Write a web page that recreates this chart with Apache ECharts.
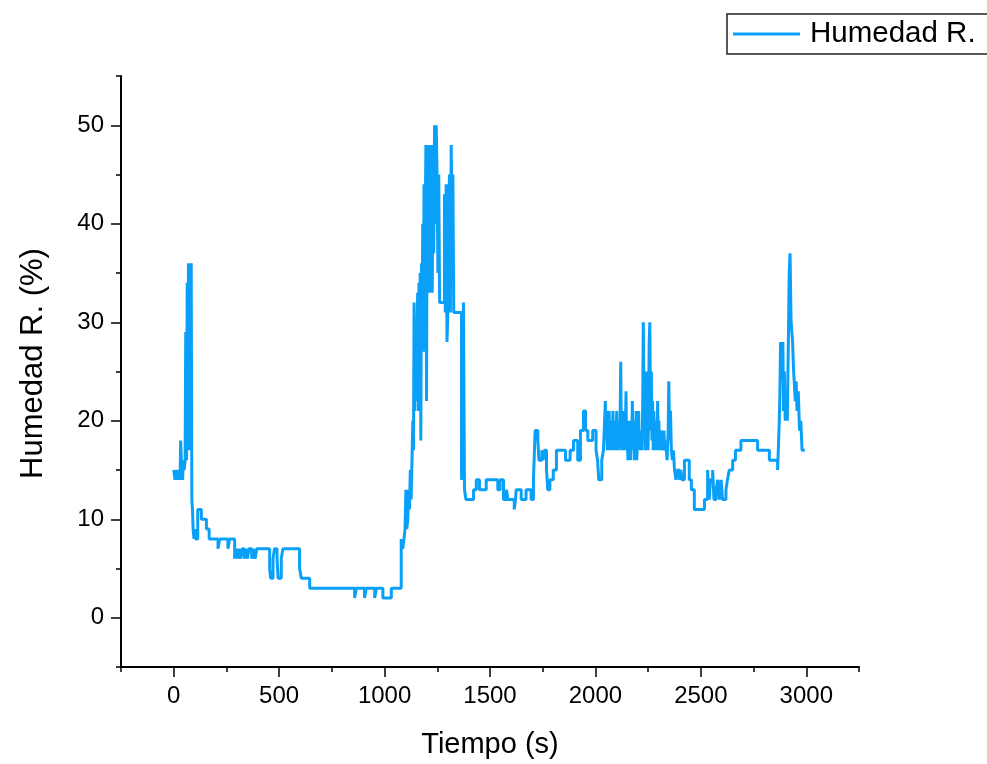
<!DOCTYPE html>
<html>
<head>
<meta charset="utf-8">
<script src="https://cdn.jsdelivr.net/npm/echarts@6/dist/echarts.min.js"></script>
<style>
  html, body { margin: 0; padding: 0; background: #ffffff; }
  #chart { width: 987px; height: 764px; }
</style>
</head>
<body>
<div id="chart"></div>
<script>
// Relative humidity log as [time (s), RH (%)]; each reading holds until the next timestamp.
const tramoInicial = [
  [0, 15], [6, 14], [10, 15], [14, 14], [18, 15], [22, 14], [26, 15], [30, 14], [33, 18], [38, 15], [42, 14], [46, 16],
  [50, 15], [54, 16], [57, 29], [61, 16], [64, 34], [67, 21], [70, 36], [73, 17], [76, 36], [80, 20], [83, 36], [86, 12],
  [89, 11], [92, 9], [96, 8], [100, 9], [104, 8], [114, 11], [131, 10], [155, 9], [168, 8]
];
const tramoSeco = [
  [210, 7], [218, 8], [257, 7], [265, 8], [289, 6], [296, 7], [303, 6], [310, 7], [318, 6], [325, 7], [335, 6], [342, 7],
  [350, 6], [357, 7], [370, 6], [378, 7], [386, 6], [394, 7], [455, 5], [460, 4], [471, 6], [478, 7], [490, 6], [495, 4],
  [510, 6], [518, 7], [597, 5], [605, 4], [645, 3], [858, 2], [866, 3], [905, 2], [913, 3], [953, 2], [961, 3], [992, 2],
  [1032, 3]
];
const picoCentral = [
  [1079, 8], [1086, 7], [1092, 8], [1097, 9], [1101, 13], [1105, 9], [1110, 10], [1114, 13], [1118, 11], [1122, 15],
  [1126, 12], [1130, 16], [1134, 20], [1137, 17], [1140, 32], [1143, 21], [1147, 30], [1151, 22], [1154, 29], [1157, 33],
  [1160, 21], [1163, 34], [1166, 26], [1169, 35], [1172, 18], [1175, 36], [1178, 30], [1181, 40], [1184, 27], [1187, 44],
  [1190, 35], [1193, 41], [1196, 48], [1199, 22], [1202, 45], [1205, 48], [1208, 34], [1211, 48], [1214, 33], [1217, 46],
  [1220, 38], [1223, 48], [1226, 33], [1229, 43], [1233, 37], [1237, 50], [1241, 40], [1245, 50], [1249, 45], [1253, 35],
  [1257, 45], [1261, 32], [1284, 43], [1288, 31], [1292, 44], [1296, 28], [1300, 31], [1304, 42], [1308, 45], [1312, 31],
  [1316, 48], [1320, 40], [1324, 45], [1328, 31], [1365, 14], [1370, 20], [1374, 32], [1379, 13], [1386, 12]
];
const tramoMedio = [
  [1422, 13], [1435, 14], [1450, 13], [1482, 14], [1537, 13], [1548, 14], [1564, 12], [1578, 13], [1585, 12], [1615, 11],
  [1621, 12], [1624, 13], [1648, 12], [1671, 13], [1695, 12], [1706, 14], [1714, 19], [1727, 18], [1732, 16], [1746, 17],
  [1752, 16], [1758, 17], [1768, 15], [1774, 13], [1784, 14], [1800, 15], [1815, 17], [1858, 16], [1880, 17], [1896, 18],
  [1916, 16], [1929, 19], [1943, 21], [1953, 19], [1964, 18], [1987, 19], [2003, 17], [2010, 16], [2016, 14], [2030, 16],
  [2038, 17]
];
const tramoRuidoso = [
  [2047, 22], [2050, 18], [2053, 21], [2056, 17], [2059, 20], [2062, 18], [2065, 21], [2068, 17], [2071, 19], [2074, 17],
  [2077, 20], [2080, 18], [2083, 21], [2086, 17], [2089, 19], [2092, 17], [2095, 20], [2098, 18], [2101, 21], [2104, 17],
  [2107, 19], [2110, 17], [2113, 20], [2116, 18], [2120, 26], [2123, 18], [2126, 17], [2129, 20], [2132, 18], [2135, 21],
  [2138, 17], [2142, 19], [2145, 23], [2148, 17], [2151, 19], [2154, 16], [2157, 20], [2160, 17], [2163, 19], [2166, 16],
  [2169, 20], [2172, 17], [2175, 22], [2178, 17], [2181, 20], [2184, 16], [2187, 19], [2190, 17], [2193, 21], [2196, 16],
  [2199, 18], [2202, 17], [2205, 21], [2208, 17], [2211, 19], [2214, 17], [2218, 19], [2221, 17], [2224, 21], [2227, 30],
  [2231, 20], [2234, 24], [2237, 17], [2240, 25], [2243, 19], [2246, 22], [2249, 17], [2252, 20], [2255, 28], [2258, 30],
  [2262, 19], [2265, 25], [2268, 18], [2271, 22], [2274, 17], [2277, 21], [2280, 17], [2283, 20], [2286, 17], [2289, 19],
  [2292, 17], [2295, 22], [2298, 18], [2301, 20], [2304, 17], [2307, 19], [2310, 17], [2313, 19], [2316, 17], [2319, 18],
  [2322, 17], [2325, 19], [2328, 17], [2332, 18], [2336, 17], [2340, 16], [2345, 19], [2348, 24], [2352, 18], [2356, 21],
  [2360, 17], [2365, 16], [2370, 17]
];
const tramoFinal = [
  [2375, 15], [2382, 14], [2388, 15], [2398, 14], [2405, 15], [2410, 14], [2422, 16], [2445, 14], [2455, 13], [2469, 11],
  [2517, 12], [2532, 15], [2540, 12], [2545, 14], [2556, 15], [2562, 12], [2572, 13], [2580, 14], [2588, 12], [2596, 14],
  [2603, 12], [2619, 13], [2626, 14], [2635, 15], [2651, 16], [2664, 17], [2690, 18], [2769, 17], [2825, 16], [2864, 15],
  [2872, 20], [2875, 23], [2878, 28], [2885, 24], [2889, 28], [2892, 21], [2896, 25], [2900, 20], [2904, 22], [2910, 20],
  [2915, 28], [2919, 35], [2923, 37], [2928, 30], [2935, 28], [2940, 25], [2948, 22], [2952, 24], [2956, 21], [2962, 23],
  [2968, 19], [2974, 20], [2980, 17], [2993, 17]
];

const xMajorTicks = [0, 500, 1000, 1500, 2000, 2500, 3000];
const yMajorTicks = [0, 10, 20, 30, 40, 50];

const serieNombre = 'Humedad R.';
const tituloX = 'Tiempo (s)';
const tituloY = 'Humedad R. (%)';

const FONT = 'Liberation Sans, Arial, sans-serif';
const LINE_COLOR = '#0aa0f8';

const puntos = [].concat(tramoInicial, tramoSeco, picoCentral, tramoMedio, tramoRuidoso, tramoFinal);

const chart = echarts.init(document.getElementById('chart'), null, { renderer: 'canvas' });

const axisLine = { show: true, onZero: false, lineStyle: { color: '#000', width: 2 } };
const plain = (v) => String(v);

chart.setOption({
  backgroundColor: '#ffffff',
  animation: false,
  grid: { left: 121, top: 76, width: 738, height: 591, containLabel: false },
  legend: {
    left: 727,
    top: 14,
    padding: [5, 14, 5, 6],
    borderColor: '#222',
    borderWidth: 1.5,
    borderRadius: 0,
    itemWidth: 67,
    itemHeight: 3,
    icon: 'rect',
    textStyle: { fontFamily: FONT, fontSize: 29.5, color: '#000', padding: [0, 0, 0, 5] },
    data: [serieNombre]
  },
  xAxis: [
    {
      // minor ticks every 250 s
      type: 'value', position: 'bottom', min: -250, max: 3250, interval: 250,
      axisLine: axisLine,
      axisTick: { show: true, inside: false, length: 5, lineStyle: { color: '#000', width: 1.5 } },
      axisLabel: { show: false },
      splitLine: { show: false }
    },
    {
      // major ticks and labels
      type: 'value', position: 'bottom', min: -250, max: 3250,
      axisLine: { show: false, onZero: false },
      axisTick: { show: true, inside: false, length: 10, customValues: xMajorTicks, lineStyle: { color: '#000', width: 1.5 } },
      axisLabel: { show: true, customValues: xMajorTicks, formatter: plain, margin: 17, fontFamily: FONT, fontSize: 24, color: '#000' },
      splitLine: { show: false },
      name: tituloX, nameLocation: 'middle', nameGap: 63,
      nameTextStyle: { fontFamily: FONT, fontSize: 29, color: '#000' }
    }
  ],
  yAxis: [
    {
      type: 'value', position: 'left', min: -5, max: 55, interval: 5,
      axisLine: axisLine,
      axisTick: { show: true, inside: false, length: 5, lineStyle: { color: '#000', width: 1.5 } },
      axisLabel: { show: false },
      splitLine: { show: false }
    },
    {
      type: 'value', position: 'left', min: -5, max: 55,
      axisLine: { show: false, onZero: false },
      axisTick: { show: true, inside: false, length: 10, customValues: yMajorTicks, lineStyle: { color: '#000', width: 1.5 } },
      axisLabel: { show: true, customValues: yMajorTicks, formatter: plain, margin: 17, fontFamily: FONT, fontSize: 24, color: '#000' },
      splitLine: { show: false },
      name: tituloY, nameLocation: 'middle', nameGap: 72,
      nameTextStyle: { fontFamily: FONT, fontSize: 31, color: '#000', padding: [0, 0, 0, 16] }
    }
  ],
  series: [
    {
      name: serieNombre,
      type: 'line',
      xAxisIndex: 0,
      yAxisIndex: 0,
      step: 'end',
      showSymbol: false,
      symbol: 'none',
      color: LINE_COLOR,
      lineStyle: { color: LINE_COLOR, width: 3 },
      data: puntos
    }
  ]
});
</script>
</body>
</html>
